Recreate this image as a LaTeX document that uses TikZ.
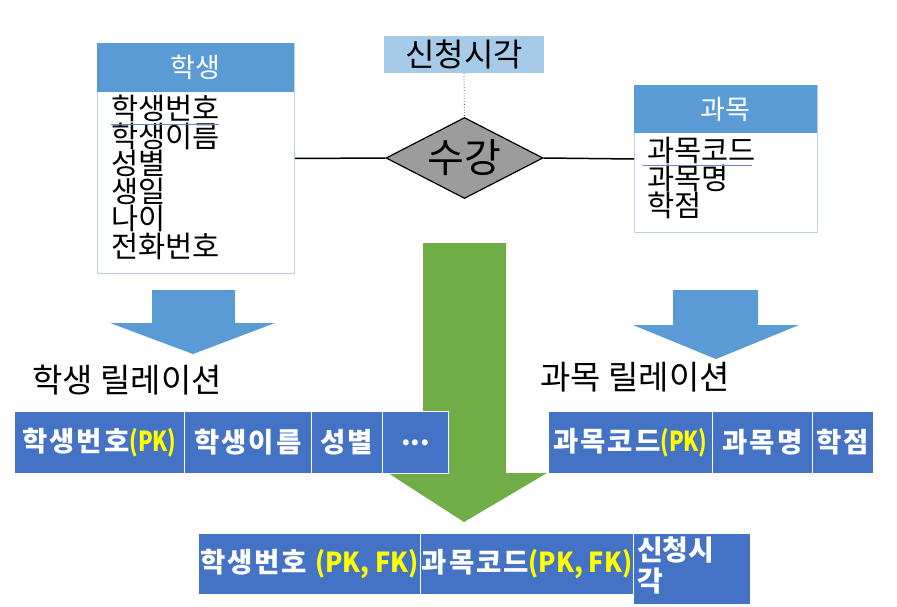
\documentclass[tikz,border=0pt]{standalone}
\usepackage{fontspec}
\setmainfont{Noto Sans CJK KR}
\usetikzlibrary{shapes.geometric}
\definecolor{hdrblue}{HTML}{5B9BD5}
\definecolor{entline}{HTML}{B4D0EA}
\definecolor{attrbg}{HTML}{A6CBE8}
\definecolor{diagray}{HTML}{9C9C9C}
\definecolor{tblblue}{HTML}{4472C4}
\definecolor{arrgreen}{HTML}{70AD47}
\definecolor{pkyellow}{HTML}{FFFF00}
\definecolor{ulblue}{HTML}{6F86B8}
\newcommand\pkmark[1]{{\addfontfeature{LetterSpace=0,FakeStretch=0.78}\textcolor{pkyellow}{#1}}}
\newcommand\fkmark[1]{{\addfontfeature{LetterSpace=0,FakeStretch=0.92}\textcolor{pkyellow}{#1}}}
\newcommand\plainsp[1]{{\addfontfeature{LetterSpace=0}#1}}
\begin{document}
\begin{tikzpicture}[x=1pt,y=-1pt,
 entbox/.style={draw=entline, line width=1pt, fill=white, inner sep=0, anchor=north west},
 enthead/.style={fill=hdrblue, inner sep=0, anchor=north west, text=white, font=\fontsize{27}{30}\selectfont},
 attr/.style={anchor=west, inner sep=0, font=\fontsize{29.5}{31}\selectfont},
 relshape/.style={diamond, aspect=1.94, draw=black, line width=1.2pt, fill=diagray, inner sep=0, font=\fontsize{40}{44}\selectfont},
 attrbox/.style={fill=attrbg, inner sep=0, font=\fontsize{32}{36}\selectfont},
 link/.style={draw=black, line width=1.5pt},
 ulink/.style={draw=ulblue, line width=1pt},
 cell/.style={draw=white, line width=1pt, fill=tblblue, inner sep=0, anchor=north west, text=white, font=\bfseries\fontsize{27.5}{32}\selectfont\addfontfeature{LetterSpace=7}},
 rellabel/.style={anchor=west, inner sep=0, font=\fontsize{33}{36}\selectfont},
 blockblue/.style={fill=hdrblue},
 blockgreen/.style={fill=arrgreen}]
\useasboundingbox (0,0) rectangle (897,607);
\fill[white] (0,0) rectangle (897,607);

% student entity
\node[entbox, minimum width=197pt, minimum height=230pt] (stu) at (97,43) {};
\node[enthead, minimum width=197pt, minimum height=49pt] (stuh) at (97,43) {학생};
\node[attr] (s1) at (111,108.5) {학생번호};
\node[attr] (s2) at (111,136) {학생이름};
\node[attr] (s3) at (111,163.5) {성별};
\node[attr] (s4) at (111,191) {생일};
\node[attr] (s5) at (111,218.5) {나이};
\node[attr] (s6) at (111,246) {전화번호};
\draw[ulink] (111,124.5) -- (219,124.5);

% course entity
\node[entbox, minimum width=183pt, minimum height=147pt] (crs) at (634,85) {};
\node[enthead, minimum width=183pt, minimum height=48pt] (crsh) at (634,85) {과목};
\node[attr] (c1) at (647,150.5) {과목코드};
\node[attr] (c2) at (647,178) {과목명};
\node[attr] (c3) at (647,205.5) {학점};
\draw[ulink] (643,166) -- (752,166);

% relationship
\node[attrbox, minimum width=160pt, minimum height=37pt] (sc) at (464,54.5) {신청시각};
\node[relshape, minimum width=157pt, minimum height=81pt] (dia) at (464.5,158) {수강};
\draw[link] (stu.east) -- (dia.west);
\draw[link] (dia.east) -- (crs.west);
\draw[black!65, dotted, line width=0.8pt] (sc.south) -- (dia.north);

% block arrows
\fill[blockblue] (152,290) -- (235,290) -- (235,323) -- (275,323) -- (193,354) -- (110,323) -- (152,323) -- cycle;
\fill[blockblue] (673,290) -- (758,290) -- (758,325) -- (799,325) -- (716,359) -- (633,325) -- (673,325) -- cycle;
\fill[blockgreen] (423,243) -- (506,243) -- (506,473) -- (547,473) -- (464,522) -- (388,473) -- (423,473) -- cycle;

% relation labels
\node[rellabel] (lstu) at (32,380) {학생 릴레이션};
\node[rellabel] (lcrs) at (540,377) {과목 릴레이션};

% student relation
\node[cell, minimum width=170pt, minimum height=62pt] (t1) at (14,411) {학생번호\pkmark{(PK)}};
\node[cell, minimum width=127pt, minimum height=62pt] (t2) at (184,411) {학생이름};
\node[cell, minimum width=71pt, minimum height=62pt] (t3) at (311,411) {성별};
\node[cell, minimum width=66pt, minimum height=62pt] (t4) at (382,411) {\plainsp{...}};

% course relation
\node[cell, minimum width=164pt, minimum height=62pt] (u1) at (548,411) {과목코드\pkmark{(PK)}};
\node[cell, minimum width=100pt, minimum height=62pt] (u2) at (712,411) {과목명};
\node[cell, minimum width=61pt, minimum height=62pt] (u3) at (812,411) {학점};

% enrolment relation
\node[cell, minimum width=222pt, minimum height=61pt] (v1) at (198,533) {학생번호 \fkmark{(PK, FK)}};
\node[cell, minimum width=213pt, minimum height=61pt] (v2) at (420,533) {과목코드\fkmark{(PK, FK)}};
\node[cell, minimum width=117pt, minimum height=71pt] (v3) at (633,533) {};
\node[anchor=north west, inner sep=0, align=left, text=white, font=\bfseries\fontsize{28}{31}\selectfont] (v3t) at (637,537) {신청시\\각};
\end{tikzpicture}
\end{document}
